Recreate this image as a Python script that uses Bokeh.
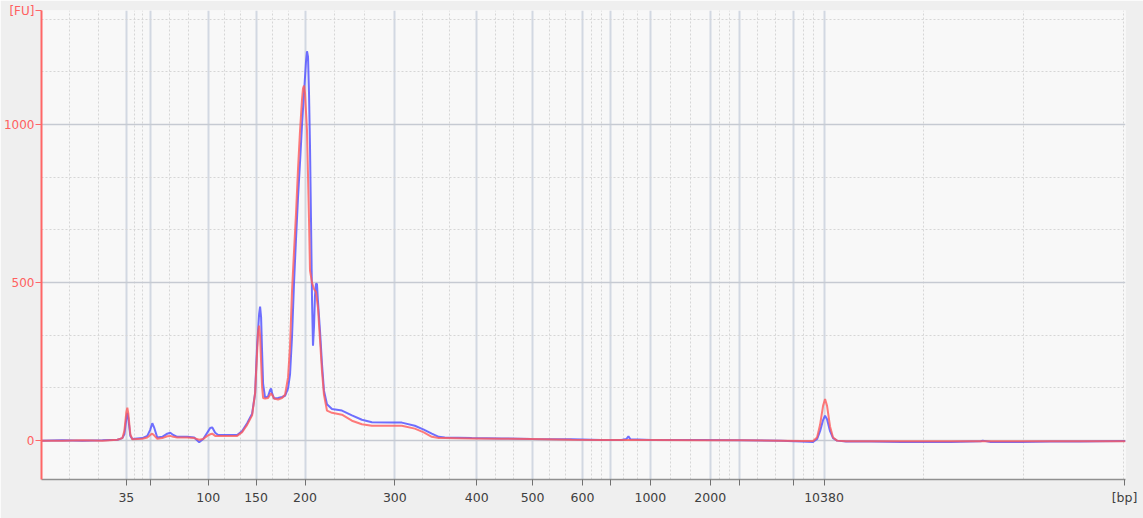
from bokeh.plotting import figure
from bokeh.models import Range1d, FixedTicker
from bokeh.embed import file_html
from bokeh.resources import INLINE

# ---- data: migration position (ladder-calibrated axis) and fluorescence [FU]
ladder_pos = [124, 148, 206, 254, 303, 393, 475, 531, 581, 609, 649, 709, 738, 792, 823]
ladder_bp = ["35", "", "100", "150", "200", "300", "400", "500", "600", "",
             "1000", "2000", "", "", "10380"]

blue_pos = [39, 60, 80, 100, 115, 120, 122, 124, 125, 126, 128, 130, 140, 145, 148, 150, 152,
            155, 160, 165, 168, 171, 175, 185, 192, 197, 201, 205, 208, 210, 213, 216, 225,
            235, 240, 245, 250, 253, 255, 257, 258, 259, 260, 261, 263, 266, 268, 269, 270,
            272, 276, 280, 283, 286, 288, 290, 292, 294, 296, 298, 300, 302, 304, 305, 306,
            307, 308, 309, 310, 311, 312, 313, 314, 315, 316, 318, 320, 322, 325, 330, 340,
            350, 360, 370, 390, 400, 413, 422, 430, 437, 443, 470, 500, 530, 570, 600, 620,
            625, 627, 629, 650, 700, 740, 780, 800, 812, 816, 819, 822, 824, 826, 829, 832,
            836, 845, 870, 900, 950, 980, 982, 990, 1020, 1050, 1080, 1100, 1125]
blue_fu = [0, 1, 0, 1, 3, 8, 20, 70, 88, 70, 15, 5, 8, 15, 35, 55, 40,
           10, 12, 22, 25, 18, 12, 12, 10, -5, 5, 25, 40, 42, 25, 18, 18,
           18, 30, 55, 85, 150, 300, 400, 424, 390, 280, 180, 136, 140, 160, 165, 150,
           133, 135, 138, 142, 165, 210, 330, 500, 640, 770, 880, 1000, 1100, 1200, 1232, 1215,
           1100, 930, 700, 450, 300, 360, 460, 497, 495, 440, 348, 243, 158, 115, 100, 95,
           80, 66, 58, 57, 57, 47, 35, 22, 12, 10, 8, 7, 5, 4, 2, 2,
           5, 14, 4, 2, 2, 1, 0, -3, -4, 5, 30, 65, 79, 68, 30, 8,
           0, -3, -3, -4, -4, -2, 0, -4, -4, -3, -3, -2, -1]

red_pos = [39, 60, 80, 100, 115, 120, 122, 124, 125, 126, 128, 130, 140, 145, 148, 150, 152,
           155, 160, 165, 168, 171, 175, 185, 192, 197, 201, 205, 208, 210, 213, 216, 235,
           240, 245, 250, 253, 255, 256, 257, 258, 259, 260, 261, 263, 266, 269, 271, 272,
           276, 280, 283, 286, 288, 290, 292, 294, 296, 298, 300, 301, 302, 303, 305, 307,
           308, 310, 312, 314, 316, 318, 320, 322, 325, 330, 340, 350, 360, 370, 400, 413,
           422, 430, 437, 443, 470, 500, 530, 570, 600, 650, 700, 740, 780, 800, 812, 816,
           819, 822, 824, 826, 829, 832, 836, 845, 900, 1000, 1125]
red_fu = [0, 0, 1, 0, 3, 8, 30, 90, 104, 85, 20, 4, 6, 10, 18, 22, 16,
          6, 8, 14, 15, 12, 10, 10, 8, 3, 5, 15, 20, 22, 15, 15, 15,
          27, 50, 80, 150, 280, 345, 364, 330, 250, 170, 135, 133, 135, 150, 140, 133,
          130, 135, 145, 200, 300, 475, 600, 720, 860, 980, 1080, 1115, 1123, 1100, 980, 700,
          538, 500, 480, 470, 420, 320, 220, 145, 95, 88, 82, 63, 52, 47, 47, 38,
          26, 12, 8, 8, 7, 6, 5, 3, 2, 2, 1, 1, 0, -1, -1, 10,
          50, 110, 132, 110, 45, 10, 0, -2, -2, -2, -2]

fu_ticks = [0, 500, 1000]
fu_labels = ["0", "500", "1000"]
x_unit = "[bp]"
y_unit = "[FU]"

X0, X1 = 39, 1125
Y0, Y1 = -123, 1361

# minor (dotted) grid positions: thirds between ladder lines
minor_x = []
edges = [X0] + ladder_pos
for a, b in zip(edges[:-1], edges[1:]):
    minor_x += [a + (b - a) / 3.0, a + 2 * (b - a) / 3.0]
k = 1
while ladder_pos[-1] + 100 * k < X1:
    minor_x.append(ladder_pos[-1] + 100 * k)
    k += 1
minor_y = [v * 500 / 3.0 for v in range(0, 9) if v % 3 != 0]

p = figure(width=1143, height=518, x_range=Range1d(X0, X1), y_range=Range1d(Y0, Y1),
           output_backend="svg", toolbar_location=None,
           min_border_left=39, min_border_right=18, min_border_top=10, min_border_bottom=39)
p.outline_line_color = None
p.background_fill_color = "#f8f8f8"
p.border_fill_color = "#efefef"

# axis tickers (with the unit labels placed at the ends) and grid tickers
x_unit_pos = X1 - 1
y_unit_pos = Y1 - 1
p.xaxis.ticker = FixedTicker(ticks=ladder_pos + [x_unit_pos], minor_ticks=[])
p.xgrid.ticker = FixedTicker(ticks=ladder_pos, minor_ticks=minor_x)
p.yaxis.ticker = FixedTicker(ticks=fu_ticks + [y_unit_pos], minor_ticks=[])
p.ygrid.ticker = FixedTicker(ticks=fu_ticks, minor_ticks=minor_y)

xo = {pos: lab for pos, lab in zip(ladder_pos, ladder_bp)}
xo[x_unit_pos] = x_unit
p.xaxis.major_label_overrides = xo
p.xaxis.major_label_text_font = "DejaVu Sans"
p.xaxis.major_label_text_font_size = "12.5px"
p.xaxis.major_label_text_color = "#404040"
p.xaxis.major_label_standoff = 4
p.xaxis.axis_line_color = "#909090"
p.xaxis.axis_line_width = 1.5
p.xaxis.major_tick_line_color = "#707070"
p.xaxis.major_tick_out = 6
p.xaxis.major_tick_in = 0
p.xaxis.minor_tick_line_color = None

yo = {v: s for v, s in zip(fu_ticks, fu_labels)}
yo[y_unit_pos] = y_unit
p.yaxis.major_label_overrides = yo
p.yaxis.major_label_text_font = "DejaVu Sans"
p.yaxis.major_label_text_font_size = "12px"
p.yaxis.major_label_text_color = "#ff6060"
p.yaxis.major_label_standoff = 1
p.yaxis.axis_line_color = "#ff6666"
p.yaxis.axis_line_width = 2
p.yaxis.major_tick_line_color = "#ff6666"
p.yaxis.major_tick_out = 6
p.yaxis.major_tick_in = 0
p.yaxis.minor_tick_line_color = None

p.xgrid.grid_line_color = "#d2d8e2"
p.xgrid.grid_line_width = 2
p.xgrid.minor_grid_line_color = "#d6d6d6"
p.xgrid.minor_grid_line_dash = "2 2"
p.ygrid.grid_line_color = "#c6cad2"
p.ygrid.grid_line_width = 1.5
p.ygrid.minor_grid_line_color = "#d6d6d6"
p.ygrid.minor_grid_line_dash = "2 2"

p.line(blue_pos, blue_fu, line_color="#5656ff", line_width=2, line_alpha=0.85)
p.line(red_pos, red_fu, line_color="#ff5a5a", line_width=2, line_alpha=0.8)

open("out.html", "w").write(file_html(p, INLINE))
